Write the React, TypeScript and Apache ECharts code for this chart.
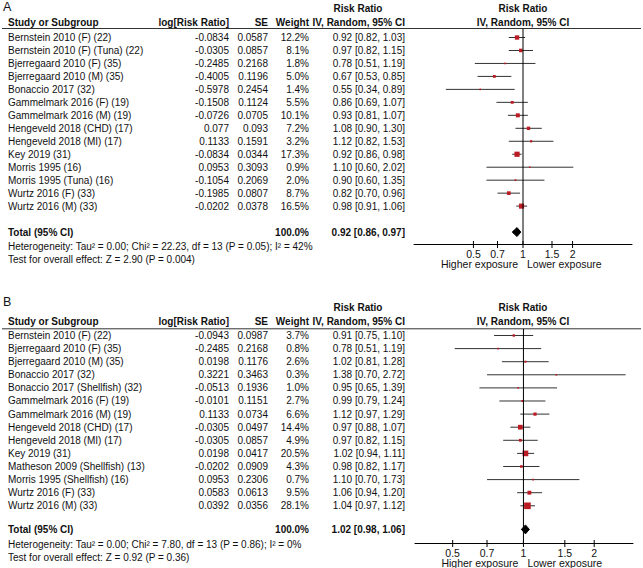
import React, { useEffect, useRef } from "react";
import * as echarts from "echarts";

// ---------------- Panel A data ----------------
const studiesA = [
  "Bernstein 2010 (F) (22)",
  "Bernstein 2010 (F) (Tuna) (22)",
  "Bjerregaard 2010 (F) (35)",
  "Bjerregaard 2010 (M) (35)",
  "Bonaccio 2017 (32)",
  "Gammelmark 2016 (F) (19)",
  "Gammelmark 2016 (M) (19)",
  "Hengeveld 2018 (CHD) (17)",
  "Hengeveld 2018 (MI) (17)",
  "Key 2019 (31)",
  "Morris 1995 (16)",
  "Morris 1995 (Tuna) (16)",
  "Wurtz 2016 (F) (33)",
  "Wurtz 2016 (M) (33)",
];
const logRRA = [-0.0834, -0.0305, -0.2485, -0.4005, -0.5978, -0.1508, -0.0726, 0.077, 0.1133, -0.0834, 0.0953, -0.1054, -0.1985, -0.0202];
const seA = [0.0587, 0.0857, 0.2168, 0.1196, 0.2454, 0.1124, 0.0705, 0.093, 0.1591, 0.0344, 0.3093, 0.2069, 0.0807, 0.0378];
const weightA = [12.2, 8.1, 1.8, 5.0, 1.4, 5.5, 10.1, 7.2, 3.2, 17.3, 0.9, 2.0, 8.7, 16.5];
const rrA = [0.92, 0.97, 0.78, 0.67, 0.55, 0.86, 0.93, 1.08, 1.12, 0.92, 1.1, 0.9, 0.82, 0.98];
const lowA = [0.82, 0.82, 0.51, 0.53, 0.34, 0.69, 0.81, 0.9, 0.82, 0.86, 0.6, 0.6, 0.7, 0.91];
const highA = [1.03, 1.15, 1.19, 0.85, 0.89, 1.07, 1.07, 1.3, 1.53, 0.98, 2.02, 1.35, 0.96, 1.06];
const totalA = [0.92, 0.86, 0.97]; // RR, lower, upper
const totalWeightA = 100.0;
const hetA = "Heterogeneity: Tau² = 0.00; Chi² = 22.23, df = 13 (P = 0.05); I² = 42%";
const testA = "Test for overall effect: Z = 2.90 (P = 0.004)";

// ---------------- Panel B data ----------------
const studiesB = [
  "Bernstein 2010 (F) (22)",
  "Bjerregaard 2010 (F) (35)",
  "Bjerregaard 2010 (M) (35)",
  "Bonaccio 2017 (32)",
  "Bonaccio 2017 (Shellfish) (32)",
  "Gammelmark 2016 (F) (19)",
  "Gammelmark 2016 (M) (19)",
  "Hengeveld 2018 (CHD) (17)",
  "Hengeveld 2018 (MI) (17)",
  "Key 2019 (31)",
  "Matheson 2009 (Shellfish) (13)",
  "Morris 1995 (Shellfish) (16)",
  "Wurtz 2016 (F) (33)",
  "Wurtz 2016 (M) (33)",
];
const logRRB = [-0.0943, -0.2485, 0.0198, 0.3221, -0.0513, -0.0101, 0.1133, -0.0305, -0.0305, 0.0198, -0.0202, 0.0953, 0.0583, 0.0392];
const seB = [0.0987, 0.2168, 0.1176, 0.3463, 0.1936, 0.1151, 0.0734, 0.0497, 0.0857, 0.0417, 0.0909, 0.2306, 0.0613, 0.0356];
const weightB = [3.7, 0.8, 2.6, 0.3, 1.0, 2.7, 6.6, 14.4, 4.9, 20.5, 4.3, 0.7, 9.5, 28.1];
const rrB = [0.91, 0.78, 1.02, 1.38, 0.95, 0.99, 1.12, 0.97, 0.97, 1.02, 0.98, 1.1, 1.06, 1.04];
const lowB = [0.75, 0.51, 0.81, 0.7, 0.65, 0.79, 0.97, 0.88, 0.82, 0.94, 0.82, 0.7, 0.94, 0.97];
const highB = [1.1, 1.19, 1.28, 2.72, 1.39, 1.24, 1.29, 1.07, 1.15, 1.11, 1.17, 1.73, 1.2, 1.12];
const totalB = [1.02, 0.98, 1.06];
const totalWeightB = 100.0;
const hetB = "Heterogeneity: Tau² = 0.00; Chi² = 7.80, df = 13 (P = 0.86); I² = 0%";
const testB = "Test for overall effect: Z = 0.92 (P = 0.36)";

// ---------------- Axis / header texts ----------------
const tickLabels = [0.5, 0.7, 1, 1.5, 2];
const headStudy = "Study or Subgroup";
const headLog = "log[Risk Ratio]";
const headSE = "SE";
const headWeight = "Weight";
const headRR = "Risk Ratio";
const headIV = "IV, Random, 95% CI";
const totalLabel = "Total (95% CI)";
const favLeft = "Higher exposure";
const favRight = "Lower exposure";

// ---------------- Layout ----------------
const FONT = '"Liberation Sans", Arial, Helvetica, sans-serif';
const TXT = "#111";
const SQ = "#BB1B22";
const FS = 10;
const COL = { study: 8, logrr: 229, se: 268, weight: 309, ci: 405, rrHead: 358, forest: 523 };

const fmtCI = (r: number, l: number, h: number) => `${r.toFixed(2)} [${l.toFixed(2)}, ${h.toFixed(2)}]`;

function txt(text: string, x: number, y: number, align: string, bold = false, size = FS) {
  return {
    type: "text",
    x,
    y,
    silent: true,
    style: {
      text,
      fill: TXT,
      fontSize: size,
      fontFamily: FONT,
      fontWeight: bold ? "bold" : "normal",
      textAlign: align,
      textVerticalAlign: "middle",
      align,
      verticalAlign: "middle",
    },
  };
}

const panels = [
  {
    label: "A", labelY: 7, head1Y: 8, head2Y: 22, ruleY: 28.5,
    gridLeft: 414, gridTop: 28.5, gridW: 218, gridH: 215.5,
    xMin: -1.524, xMax: 1.524, yMin: -0.694, yMax: 15.92, totalRow: 15,
    hetY: 246, testY: 259,
    studies: studiesA, logRR: logRRA, se: seA, weight: weightA, rr: rrA, low: lowA, high: highA,
    total: totalA, totalWeight: totalWeightA, het: hetA, test: testA,
  },
  {
    label: "B", labelY: 302, head1Y: 307, head2Y: 321, ruleY: 328.8,
    gridLeft: 415, gridTop: 328.8, gridW: 218, gridH: 214.2,
    xMin: -1.062, xMax: 1.073, yMin: -0.511, yMax: 15.84, totalRow: 14.8,
    hetY: 544, testY: 557.3,
    studies: studiesB, logRR: logRRB, se: seB, weight: weightB, rr: rrB, low: lowB, high: highB,
    total: totalB, totalWeight: totalWeightB, het: hetB, test: testB,
  },
];

function buildOption() {
  const grid: any[] = [];
  const xAxis: any[] = [];
  const yAxis: any[] = [];
  const series: any[] = [];
  const graphic: any[] = [];

  panels.forEach((p, pi) => {
    grid.push({ left: p.gridLeft, top: p.gridTop, width: p.gridW, height: p.gridH, containLabel: false });
    xAxis.push({
      type: "value",
      gridIndex: pi,
      min: p.xMin,
      max: p.xMax,
      position: "bottom",
      axisLine: { show: true, onZero: false, lineStyle: { color: "#000", width: 1 } },
      axisTick: { show: false },
      splitLine: { show: false },
      axisLabel: {
        show: true,
        customValues: tickLabels.map((t) => Math.log(t)),
        formatter: (v: number) => {
          const t = tickLabels.find((k) => Math.abs(Math.log(k) - v) < 1e-6);
          return t === undefined ? "" : String(t);
        },
        color: TXT,
        fontSize: 10.5,
        fontFamily: FONT,
        margin: 4,
      },
    });
    yAxis.push({
      type: "value",
      gridIndex: pi,
      inverse: true,
      min: p.yMin,
      max: p.yMax,
      show: false,
    });

    // vertical line of no effect
    series.push({
      type: "line",
      xAxisIndex: pi,
      yAxisIndex: pi,
      data: [[0, p.yMin], [0, p.yMax]],
      symbol: "none",
      silent: true,
      lineStyle: { color: "#000", width: 1 },
    });

    // axis ticks (crossing the axis line)
    series.push({
      type: "custom",
      xAxisIndex: pi,
      yAxisIndex: pi,
      silent: true,
      data: tickLabels.map((t) => [Math.log(t), p.yMax]),
      encode: { x: 0, y: 1 },
      renderItem: (_params: any, api: any) => {
        const c = api.coord([api.value(0), api.value(1)]);
        return {
          type: "line",
          shape: { x1: c[0], y1: c[1] - 3, x2: c[0], y2: c[1] + 4 },
          style: { stroke: "#000", lineWidth: 1 },
        };
      },
    });

    // favour captions
    series.push({
      type: "custom",
      xAxisIndex: pi,
      yAxisIndex: pi,
      silent: true,
      data: [[0, p.yMax]],
      encode: { x: 0, y: 1 },
      renderItem: (_params: any, api: any) => {
        const c = api.coord([api.value(0), api.value(1)]);
        return {
          type: "group",
          children: [txt(favLeft, c[0] - 5, c[1] + 20, "right", false, 10.5), txt(favRight, c[0] + 4, c[1] + 20, "left", false, 10.5)],
        };
      },
    });

    // study rows: CI whiskers + weighted squares
    series.push({
      type: "custom",
      xAxisIndex: pi,
      yAxisIndex: pi,
      silent: true,
      data: p.studies.map((_s, i) => [Math.log(p.low[i]), Math.log(p.high[i]), Math.log(p.rr[i]), i, p.weight[i]]),
      encode: { x: [0, 1, 2], y: 3 },
      renderItem: (_params: any, api: any) => {
        const row = api.value(3);
        const lo = api.coord([api.value(0), row]);
        const hi = api.coord([api.value(1), row]);
        const c = api.coord([api.value(2), row]);
        const s = Math.max(1.6, 1.25 * Math.sqrt(api.value(4)));
        return {
          type: "group",
          children: [
            { type: "line", shape: { x1: lo[0], y1: lo[1], x2: hi[0], y2: hi[1] }, style: { stroke: "#333", lineWidth: 1 } },
            { type: "rect", shape: { x: c[0] - s / 2, y: c[1] - s / 2, width: s, height: s }, style: { fill: SQ } },
          ],
        };
      },
    });

    // study rows: table text
    series.push({
      type: "custom",
      xAxisIndex: pi,
      yAxisIndex: pi,
      silent: true,
      data: p.studies.map((_s, i) => [0, i]),
      encode: { x: 0, y: 1 },
      renderItem: (params: any, api: any) => {
        const i = params.dataIndex;
        const y = api.coord([api.value(0), api.value(1)])[1];
        return {
          type: "group",
          children: [
            txt(p.studies[i], COL.study, y, "left"),
            txt(String(p.logRR[i]), COL.logrr, y, "right"),
            txt(String(p.se[i]), COL.se, y, "right"),
            txt(p.weight[i].toFixed(1) + "%", COL.weight, y, "right"),
            txt(fmtCI(p.rr[i], p.low[i], p.high[i]), COL.ci, y, "right"),
          ],
        };
      },
    });

    // total row: diamond + bold texts
    series.push({
      type: "custom",
      xAxisIndex: pi,
      yAxisIndex: pi,
      silent: true,
      data: [[Math.log(p.total[1]), Math.log(p.total[2]), Math.log(p.total[0]), p.totalRow]],
      encode: { x: [0, 1, 2], y: 3 },
      renderItem: (_params: any, api: any) => {
        const row = api.value(3);
        const lo = api.coord([api.value(0), row]);
        const hi = api.coord([api.value(1), row]);
        const c = api.coord([api.value(2), row]);
        const h = 4.5;
        return {
          type: "group",
          children: [
            {
              type: "polygon",
              shape: { points: [[lo[0], lo[1]], [c[0], c[1] - h], [hi[0], hi[1]], [c[0], c[1] + h]] },
              style: { fill: "#000", stroke: "#000", lineWidth: 1 },
            },
            txt(totalLabel, COL.study, c[1], "left", true),
            txt(p.totalWeight.toFixed(1) + "%", COL.weight, c[1], "right", true),
            txt(fmtCI(p.total[0], p.total[1], p.total[2]), COL.ci, c[1], "right", true),
          ],
        };
      },
    });

    // headers, rule, labels, heterogeneity
    graphic.push(txt(p.label, 3, p.labelY, "left", false, 12.5));
    graphic.push(txt(headStudy, COL.study, p.head2Y, "left", true));
    graphic.push(txt(headLog, COL.logrr, p.head2Y, "right", true));
    graphic.push(txt(headSE, COL.se, p.head2Y, "right", true));
    graphic.push(txt(headWeight, COL.weight, p.head2Y, "right", true));
    graphic.push(txt(headRR, COL.rrHead, p.head1Y, "center", true));
    graphic.push(txt(headIV, COL.ci, p.head2Y, "right", true));
    graphic.push(txt(headRR, COL.forest, p.head1Y, "center", true));
    graphic.push(txt(headIV, COL.forest, p.head2Y, "center", true));
    graphic.push({
      type: "line",
      silent: true,
      shape: { x1: 2, y1: p.ruleY, x2: 641, y2: p.ruleY },
      style: { stroke: "#333", lineWidth: 1 },
    });
    graphic.push(txt(p.het, COL.study, p.hetY, "left"));
    graphic.push(txt(p.test, COL.study, p.testY, "left"));
  });

  return {
    animation: false,
    backgroundColor: "#fff",
    grid,
    xAxis,
    yAxis,
    series,
    graphic,
  };
}

export default function App() {
  const ref = useRef<HTMLDivElement>(null);
  useEffect(() => {
    if (!ref.current) return;
    const chart = echarts.init(ref.current, null, { renderer: "svg", width: 643, height: 568 });
    chart.setOption(buildOption() as any);
    return () => chart.dispose();
  }, []);
  return (
    <div
      ref={ref}
      style={{ position: "fixed", left: 0, top: 0, width: 643, height: 568, background: "#fff" }}
    />
  );
}
